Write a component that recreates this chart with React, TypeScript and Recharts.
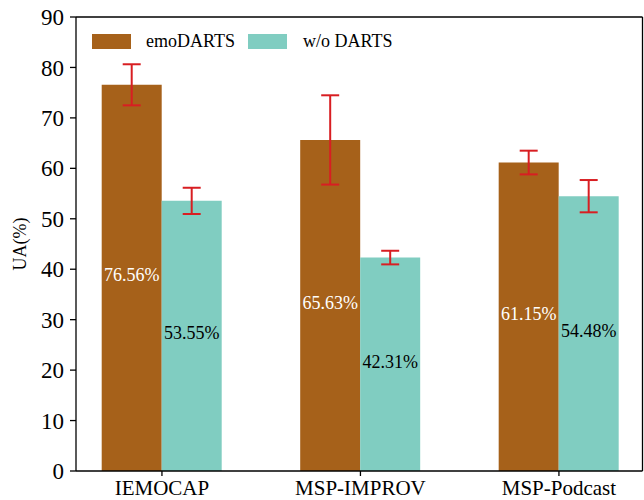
import React from 'react';
import { BarChart, Bar, XAxis, YAxis, ErrorBar, LabelList, ReferenceLine } from 'recharts';

const categories = ['IEMOCAP', 'MSP-IMPROV', 'MSP-Podcast'];
const emoValues = [76.56, 65.63, 61.15];
const woValues = [53.55, 42.31, 54.48];
const emoErr = [4.07, 8.85, 2.35];
const woErr = [2.6, 1.35, 3.2];
const yTicks = [0, 10, 20, 30, 40, 50, 60, 70, 80, 90];
const seriesNames = ['emoDARTS', 'w/o DARTS'];

const EMO = '#A6611A';
const WO = '#80CDC1';
const ERR = '#D81E22';
const FONT = '"Liberation Serif", "Times New Roman", serif';
const X_MIN = -0.433;
const X_MAX = 2.421;

const data = categories.map((c, i) => ({
  idx: i,
  name: c,
  emo: emoValues[i],
  wo: woValues[i],
  emoErr: emoErr[i],
  woErr: woErr[i],
}));

const fmt = (v: any) => `${Number(v).toFixed(2)}%`;

const LegendBox = () => (
  <div
    style={{
      position: 'absolute',
      left: 92,
      top: 31,
      display: 'flex',
      alignItems: 'center',
      fontFamily: FONT,
      fontSize: 18,
      color: '#000',
      lineHeight: '21px',
      whiteSpace: 'nowrap',
    }}
  >
    <span style={{ display: 'inline-block', width: 39, height: 15, background: EMO }} />
    <span style={{ marginLeft: 15, width: 92, display: 'inline-block' }}>{seriesNames[0]}</span>
    <span style={{ display: 'inline-block', width: 39, height: 15, background: WO, marginLeft: 10 }} />
    <span style={{ marginLeft: 16 }}>{seriesNames[1]}</span>
  </div>
);

export default function App() {
  return (
    <div style={{ position: 'absolute', left: 0, top: 0, width: 644, height: 500, background: '#fff', fontFamily: FONT }}>
      <BarChart
        width={644}
        height={500}
        data={data}
        margin={{ top: 17, right: 1.5, left: 0, bottom: 0 }}
        barGap={0}
        barSize={60}
        style={{ fontFamily: FONT }}
      >
        <XAxis
          dataKey="idx"
          type="number"
          domain={[X_MIN, X_MAX]}
          ticks={[0, 1, 2]}
          tickFormatter={(v: number) => categories[v] ?? ''}
          height={29}
          tickSize={5}
          tickMargin={4}
          allowDataOverflow
          axisLine={{ stroke: '#000', strokeWidth: 1.3 }}
          tickLine={{ stroke: '#000', strokeWidth: 1.3 }}
          tick={{ fill: '#000', fontSize: 21, fontFamily: FONT }}
        />
        <YAxis
          domain={[0, 90]}
          ticks={yTicks}
          width={76}
          tickSize={6}
          tickMargin={6}
          allowDataOverflow
          axisLine={{ stroke: '#000', strokeWidth: 1.3 }}
          tickLine={{ stroke: '#000', strokeWidth: 1.3 }}
          tick={{ fill: '#000', fontSize: 23, fontFamily: FONT }}
          label={{ value: 'UA(%)', angle: -90, position: 'center', dx: -18, style: { fontSize: 18, fontFamily: FONT, fill: '#000' } }}
        />
        <ReferenceLine y={90} stroke="#000" strokeWidth={1.3} />
        <ReferenceLine x={X_MAX} stroke="#000" strokeWidth={1.3} />
        <Bar dataKey="emo" name={seriesNames[0]} fill={EMO} isAnimationActive={false}>
          <LabelList dataKey="emo" position="center" formatter={fmt} fill="#fff" fontSize={18} fontFamily={FONT} dy={-3} />
          <ErrorBar dataKey="emoErr" width={9} strokeWidth={2} stroke={ERR} direction="y" />
        </Bar>
        <Bar dataKey="wo" name={seriesNames[1]} fill={WO} isAnimationActive={false}>
          <LabelList dataKey="wo" position="center" formatter={fmt} fill="#000" fontSize={18} fontFamily={FONT} dy={-3} />
          <ErrorBar dataKey="woErr" width={9} strokeWidth={2} stroke={ERR} direction="y" />
        </Bar>
      </BarChart>
      <LegendBox />
    </div>
  );
}
